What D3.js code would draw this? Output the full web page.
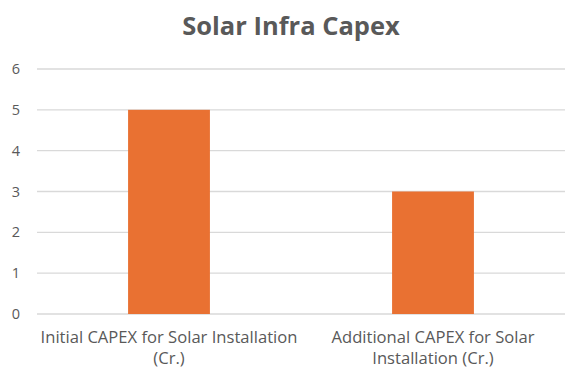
<!DOCTYPE html>
<html>
<head>
<meta charset="utf-8">
<script src="https://cdn.jsdelivr.net/npm/d3@7"></script>
<style>
  html, body { margin: 0; padding: 0; background: #fff; }
  svg { display: block; font-family: "Open Sans", sans-serif; }
</style>
</head>
<body>
<svg id="chart" width="567" height="373"></svg>
<script>
const title = "Solar Infra Capex";
const categories = [
  ["Initial CAPEX for Solar Installation", "(Cr.)"],
  ["Additional CAPEX for Solar", "Installation (Cr.)"]
];
const values = [5, 3];
const yTicks = [0, 1, 2, 3, 4, 5, 6];

const width = 567, height = 373;
const margin = { top: 69, right: 2, bottom: 59, left: 37 };
const textColor = "#595959";

const svg = d3.select("#chart");

const x = d3.scaleBand()
  .domain(categories.map((c, i) => i))
  .range([margin.left, width - margin.right])
  .paddingInner(0.69)
  .paddingOuter(0.345);

const y = d3.scaleLinear()
  .domain([0, 6])
  .range([height - margin.bottom, margin.top]);

// gridlines
svg.append("g")
  .selectAll("line")
  .data(yTicks)
  .join("line")
  .attr("x1", margin.left)
  .attr("x2", width - margin.right)
  .attr("y1", d => y(d))
  .attr("y2", d => y(d))
  .attr("stroke", "#d9d9d9")
  .attr("stroke-width", 1.3);

// y tick labels
svg.append("g")
  .selectAll("text")
  .data(yTicks)
  .join("text")
  .attr("x", 20)
  .attr("y", d => y(d))
  .attr("dy", "0.35em")
  .attr("text-anchor", "end")
  .attr("fill", textColor)
  .style("font-size", "14.5px")
  .text(d => d);

// bars
svg.append("g")
  .selectAll("rect")
  .data(values)
  .join("rect")
  .attr("x", (d, i) => x(i))
  .attr("width", x.bandwidth())
  .attr("y", d => y(d))
  .attr("height", d => y(0) - y(d))
  .attr("fill", "#E97132");

// category labels
const catLabels = svg.append("g")
  .selectAll("text")
  .data(categories)
  .join("text")
  .attr("text-anchor", "middle")
  .attr("fill", textColor)
  .style("font-size", "16.6px")
  .attr("transform", (d, i) => `translate(${x(i) + x.bandwidth() / 2},${y(0) + 29})`);

catLabels.selectAll("tspan")
  .data(d => d)
  .join("tspan")
  .attr("x", 0)
  .attr("y", (d, i) => i * 21)
  .text(d => d);

// title
svg.append("text")
  .attr("x", 291)
  .attr("y", 35)
  .attr("text-anchor", "middle")
  .attr("fill", textColor)
  .style("font-size", "25.5px")
  .style("font-weight", "bold")
  .text(title);
</script>
</body>
</html>
